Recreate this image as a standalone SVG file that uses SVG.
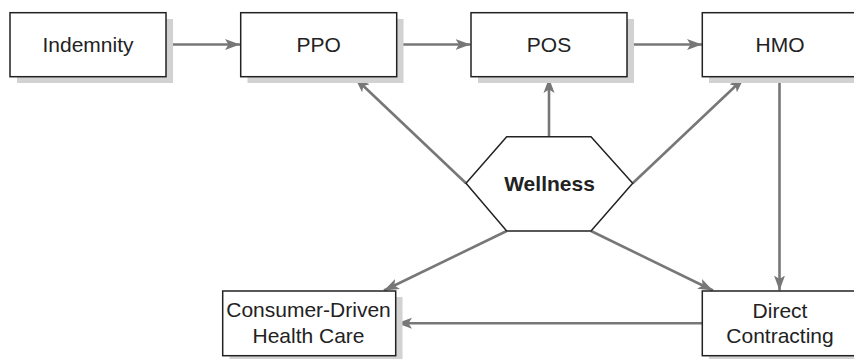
<svg xmlns="http://www.w3.org/2000/svg" width="854" height="359" viewBox="0 0 854 359">
<style>
.shadow{fill:#d2d2d2;stroke:none}
.box{fill:#fff;stroke:#222;stroke-width:1.5}
.t{font-family:"Liberation Sans",Arial,sans-serif;font-size:21px;fill:#222;text-anchor:middle}
.b{font-weight:bold}
.c{stroke:#777;stroke-width:2.6;fill:none;marker-end:url(#ah)}
</style>
<defs>
<marker id="ah" markerUnits="userSpaceOnUse" markerWidth="16" markerHeight="12" refX="15" refY="6" orient="auto">
<path d="M0,0.5 L15,6 L0,11.5 L3.5,6 Z" fill="#777"/>
</marker>
</defs>
<rect width="854" height="359" fill="#fff"/>
<g id="connectors">
<line class="c" x1="166" y1="44.5" x2="240" y2="44.5"/>
<line class="c" x1="397" y1="44.5" x2="470.5" y2="44.5"/>
<line class="c" x1="627.5" y1="44.5" x2="702" y2="44.5"/>
<line class="c" x1="549" y1="136.7" x2="549" y2="78"/>
<line class="c" x1="466" y1="183.3" x2="355" y2="78"/>
<line class="c" x1="632.7" y1="183.3" x2="744" y2="78"/>
<line class="c" x1="779.5" y1="77" x2="779.5" y2="290.5"/>
<line class="c" x1="506.7" y1="231" x2="384" y2="290.5"/>
<line class="c" x1="591" y1="231" x2="713" y2="290.5"/>
<line class="c" x1="702" y1="323.3" x2="397" y2="323.3"/>
</g>
<g id="indemnity">
<rect class="shadow" x="17" y="19" width="156" height="64"/>
<rect class="box" x="10" y="12.7" width="156" height="64"/>
<text class="t" x="88" y="52">Indemnity</text>
</g>
<g id="ppo">
<rect class="shadow" x="247.5" y="19" width="156" height="64"/>
<rect class="box" x="240.7" y="12.7" width="156" height="64"/>
<text class="t" x="318.7" y="52">PPO</text>
</g>
<g id="pos">
<rect class="shadow" x="478" y="19" width="156" height="64"/>
<rect class="box" x="471" y="12.7" width="156" height="64"/>
<text class="t" x="549" y="52">POS</text>
</g>
<g id="hmo">
<rect class="shadow" x="709" y="19" width="156" height="64"/>
<rect class="box" x="702.3" y="12.7" width="156" height="64"/>
<text class="t" x="780" y="52">HMO</text>
</g>
<g id="wellness">
<polygon points="506.7,136.7 591,136.7 632.7,183.3 591,231 506.7,231 466,183.3" fill="#fff" stroke="#222" stroke-width="1.5"/>
<text class="t b" x="549.5" y="190.7">Wellness</text>
</g>
<g id="cdhc">
<rect class="shadow" x="229.5" y="297" width="173" height="64.7"/>
<rect class="box" x="222.7" y="291" width="173" height="64.7"/>
<text class="t" x="308.5" y="317.3">Consumer-Driven</text>
<text class="t" x="308.5" y="343.3">Health Care</text>
</g>
<g id="direct">
<rect class="shadow" x="709" y="297" width="156" height="64.7"/>
<rect class="box" x="702.3" y="291" width="156" height="64.7"/>
<text class="t" x="780" y="317.5">Direct</text>
<text class="t" x="780" y="343.3">Contracting</text>
</g>
</svg>
